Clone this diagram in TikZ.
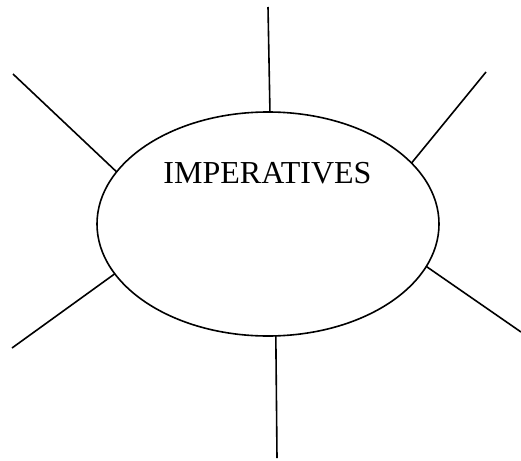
\documentclass[tikz,border=0pt]{standalone}
\usepackage{fontspec}
\setmainfont{Liberation Serif}
\usetikzlibrary{shapes.geometric}
\begin{document}
\begin{tikzpicture}[x=1pt,y=-1pt,
  ray/.style={line width=1.6pt},
  hub/.style={ellipse,draw,line width=1.6pt,minimum width=342pt,minimum height=224pt,inner sep=0pt,outer sep=0pt}]
\useasboundingbox (0,0) rectangle (521,460);
\node[hub] (c) at (268,224) {};
\node[anchor=base,inner sep=0pt,font=\fontsize{32}{38}\selectfont] (lbl) at (267.5,183) {IMPERATIVES};
\coordinate (t) at (268,7);
\coordinate (ur) at (486,72);
\coordinate (lr) at (521,332);
\coordinate (b) at (277,458);
\coordinate (ll) at (12,348);
\coordinate (ul) at (13,74);
\draw[ray] (t) -- (c.89);
\draw[ray] (ur) -- (c.23.7);
\draw[ray] (lr) -- (c.-15.2);
\draw[ray] (b) -- (c.-86.5);
\draw[ray] (ll) -- (c.-162.2);
\draw[ray] (ul) -- (c.161.3);
\end{tikzpicture}
\end{document}
